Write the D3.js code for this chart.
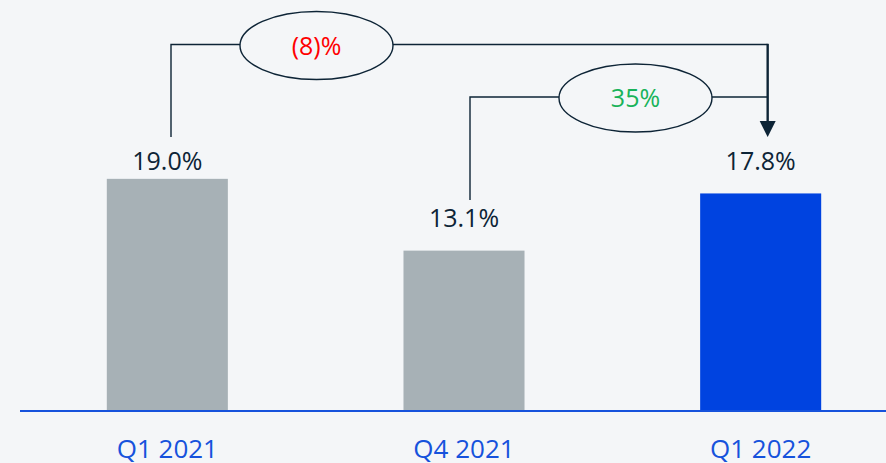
<!DOCTYPE html>
<html>
<head>
<meta charset="utf-8">
<script src="https://cdn.jsdelivr.net/npm/d3@7"></script>
<style>
  html, body { margin: 0; padding: 0; background: #f4f6f8; }
  svg { display: block; }
  text { font-family: "Open Sans", "Noto Sans", sans-serif; }
</style>
</head>
<body>
<svg id="chart" width="886" height="463"></svg>
<script>
// Quarterly values (%)
const categories = ["Q1 2021", "Q4 2021", "Q1 2022"];
const values = [19.0, 13.1, 17.8];
const valueLabels = ["19.0%", "13.1%", "17.8%"];
// Change versus the latest quarter: source bar index and label
const changeFrom = [0, 1];
const changeLabels = ["(8)%", "35%"];

const W = 886, H = 463;
const barColors = ["#a7b1b6", "#a7b1b6", "#0043e0"];
const changeColors = ["#ff0000", "#19b35a"];
const ink = "#0d2436";
const axisBlue = "#1652dc";

const svg = d3.select("#chart");
svg.append("rect").attr("width", W).attr("height", H).attr("fill", "#f4f6f8");

const x = d3.scaleBand()
  .domain(categories)
  .range([19, 909])
  .paddingInner(0.592)
  .paddingOuter(0.296);

const y = d3.scaleLinear().domain([0, 33.7]).range([410, 0]);

// Bars
svg.append("g").selectAll("rect")
  .data(values)
  .join("rect")
  .attr("x", (d, i) => x(categories[i]))
  .attr("y", d => y(d))
  .attr("width", x.bandwidth())
  .attr("height", d => y(0) - y(d))
  .attr("fill", (d, i) => barColors[i]);

// Value labels above the bars
const labelGap = [9, 24, 23];
svg.append("g").selectAll("text")
  .data(values)
  .join("text")
  .attr("x", (d, i) => x(categories[i]) + x.bandwidth() / 2)
  .attr("y", (d, i) => y(d) - labelGap[i])
  .attr("text-anchor", "middle")
  .attr("font-size", 25)
  .attr("fill", ink)
  .text((d, i) => valueLabels[i]);

// Baseline axis with category labels
const xAxis = svg.append("g")
  .attr("transform", `translate(0,${y(0) + 1})`)
  .call(d3.axisBottom(x).tickSize(0).tickPadding(29));
xAxis.select(".domain").remove();
xAxis.append("line")
  .attr("x1", 20).attr("x2", W)
  .attr("stroke", axisBlue).attr("stroke-width", 2);
xAxis.selectAll(".tick text")
  .attr("font-size", 26)
  .attr("font-family", "'Open Sans', 'Noto Sans', sans-serif")
  .attr("fill", axisBlue);

// Change brackets pointing to the latest quarter
const last = categories.length - 1;
const cx = i => x(categories[i]) + x.bandwidth() / 2;
const arrowX = cx(last) + 7;
const bracketY = [44.5, 97];
const bracketStart = [137, 200];
const bracketX = [171, 470];
const ellipseCx = [316.5, 635.5];
const rx = 76.5, ry = 34;

const g = svg.append("g");
changeFrom.forEach((from, k) => {
  const yy = bracketY[k];
  g.append("path")
    .attr("d", `M${bracketX[k]},${bracketStart[k]}V${yy}H${ellipseCx[k] - rx}`)
    .attr("fill", "none").attr("stroke", ink).attr("stroke-width", 1.4);
  g.append("path")
    .attr("d", `M${ellipseCx[k] + rx},${yy}H${arrowX}`)
    .attr("fill", "none").attr("stroke", ink).attr("stroke-width", 1.4);
  g.append("ellipse")
    .attr("cx", ellipseCx[k]).attr("cy", yy + 1)
    .attr("rx", rx).attr("ry", ry)
    .attr("fill", "none").attr("stroke", ink).attr("stroke-width", 1.4);
  g.append("text")
    .attr("x", ellipseCx[k]).attr("y", yy + 10)
    .attr("text-anchor", "middle")
    .attr("font-size", 25)
    .attr("fill", changeColors[k])
    .text(changeLabels[k]);
});

// Arrow down into the latest bar
g.append("line")
  .attr("x1", arrowX).attr("x2", arrowX)
  .attr("y1", bracketY[0] - 0.7).attr("y2", 122)
  .attr("stroke", ink).attr("stroke-width", 2.4);
g.append("path")
  .attr("d", `M${arrowX - 8},121L${arrowX + 8},121L${arrowX},137Z`)
  .attr("fill", ink);
</script>
</body>
</html>
